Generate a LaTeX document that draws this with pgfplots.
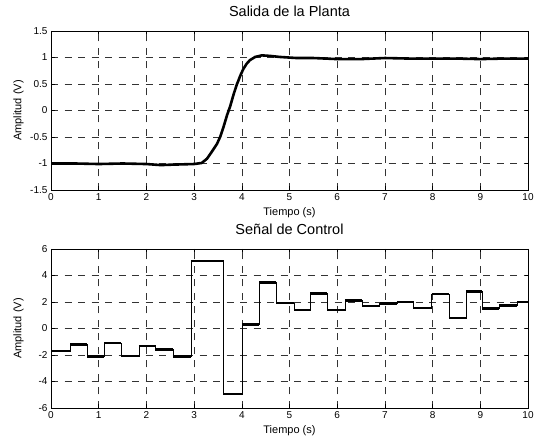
\documentclass[border=0pt]{standalone}
\usepackage{fontspec}
\setmainfont{Liberation Sans}
\usepackage{pgfplots}
\pgfplotsset{compat=1.18}
\usepackage{pgfplotstable}

% plant output
\pgfplotstableread{
t y
0 -1.00
0.5 -1.00
1 -1.01
1.5 -1.00
2 -1.01
2.3 -1.03
2.6 -1.02
3.0 -1.01
3.16 -0.99
3.27 -0.91
3.37 -0.78
3.48 -0.63
3.55 -0.49
3.62 -0.30
3.69 -0.09
3.76 0.09
3.83 0.31
3.90 0.50
3.97 0.66
4.03 0.78
4.10 0.88
4.17 0.95
4.28 1.01
4.42 1.04
4.59 1.03
4.80 1.01
5.15 0.99
5.5 0.99
6 0.97
6.5 0.97
7 0.99
7.5 0.98
8 0.98
8.5 0.98
9 0.97
9.5 0.98
10 0.98
}\salida

% control signal, one row per step
\pgfplotstableread{
t u
0 -1.70
0.40 -1.20
0.76 -2.12
1.12 -1.10
1.47 -2.08
1.84 -1.30
2.19 -1.60
2.56 -2.12
2.93 5.10
3.62 -4.95
4.00 0.30
4.37 3.47
4.72 1.92
5.09 1.40
5.44 2.65
5.79 1.38
6.16 2.12
6.52 1.72
6.89 1.88
7.25 2.02
7.60 1.55
7.98 2.60
8.34 0.80
8.70 2.78
9.04 1.52
9.40 1.75
9.77 2.00
10 2.00
}\control

\pgfplotsset{
  matlab/.style={
    scale only axis, width=477pt, height=159pt,
    xmin=0, xmax=10, xtick={0,1,...,10},
    grid=major,
    major grid style={black!80, line width=0.5pt, dash pattern=on 7pt off 6.5pt},
    tick align=inside, tick pos=both, major tick length=3.5pt,
    axis line style={line width=0.8pt},
    every tick/.style={black, line width=0.6pt},
    tick label style={font=\fontsize{10}{12}\selectfont},
    /pgf/number format/assume math mode=true,
    label style={font=\fontsize{11}{13}\selectfont},
    title style={font=\fontsize{14.5}{16}\selectfont, at={(axis description cs:0.5,1)}, anchor=base, yshift=8.5pt},
    xlabel={Tiempo (s)}, ylabel={Amplitud (V)},
    xlabel style={at={(axis description cs:0.5,-0.14)}, anchor=center},
    ylabel style={at={(axis description cs:-0.068,0.5)}, anchor=center},
  }
}

\begin{document}
\begin{tikzpicture}[x=1pt,y=1pt]
\path[use as bounding box] (0,0) rectangle (539,439);

\begin{axis}[matlab, at={(51pt,249pt)}, anchor=south west,
    ymin=-1.5, ymax=1.5, ytick={-1.5,-1,-0.5,0,0.5,1,1.5},
    title={Salida de la Planta}]
\addplot[black, line width=2.6pt, line join=round] table[x=t,y=y] {\salida};
\end{axis}

\begin{axis}[matlab, at={(51pt,31pt)}, anchor=south west,
    ymin=-6, ymax=6, ytick={-6,-4,-2,0,2,4,6},
    title={Señal de Control}]
\addplot[black, line width=0.5pt, const plot] table[x=t,y=u] {\control};
\addplot[black, line width=2.4pt, jump mark left] table[x=t,y=u] {\control};
\end{axis}
\end{tikzpicture}
\end{document}
